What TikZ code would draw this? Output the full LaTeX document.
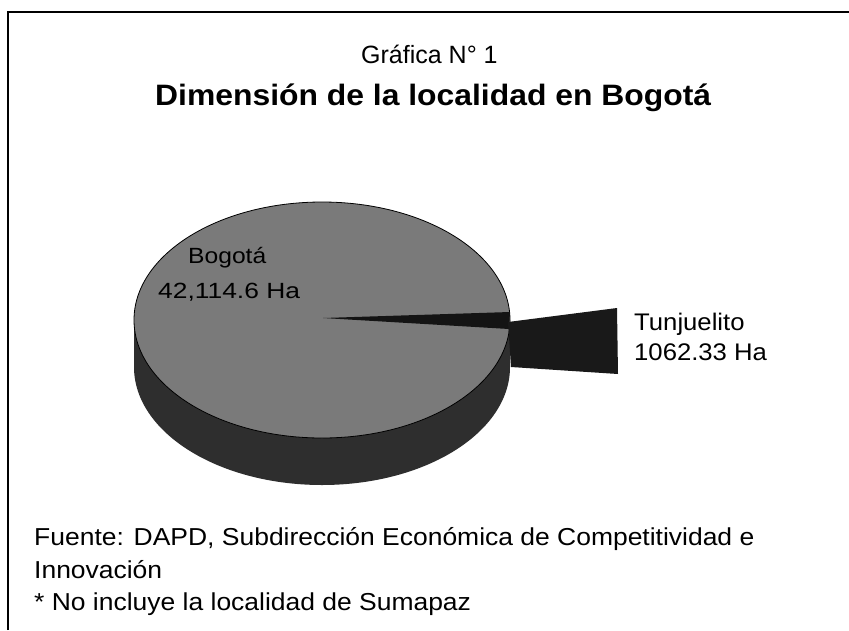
\documentclass[tikz,border=0pt]{standalone}
\usepackage{fontspec}
\usepackage{graphicx}
\setmainfont{Liberation Sans}
\newcommand{\stretchx}[2]{\scalebox{#1}[1]{#2}}
\begin{document}
\begin{tikzpicture}[x=1pt,y=-1pt,
  lbl/.style={font=\fontsize{22}{26}\selectfont,inner sep=0pt,anchor=base west},
  tlbl/.style={font=\fontsize{24}{28}\selectfont,inner sep=0pt,anchor=base west},
  foot/.style={font=\fontsize{24.5}{30}\selectfont,inner sep=0pt,anchor=base west},
  topface/.style={fill=black!52,draw=black,line width=0.8pt},
  sideface/.style={fill=black!82},
  slicebox/.style={fill=black!90}]
\useasboundingbox (0,0) rectangle (849,630);
\fill[white] (0,0) rectangle (849,630);
% frame
\draw[line width=1.8pt] (8,630) -- (8,12) -- (849,12);
% titles
\node[font=\fontsize{25}{30}\selectfont,inner sep=0pt,anchor=base west] (t1) at (361,63) {Gráfica N° 1};
\node[font=\bfseries\fontsize{29.5}{34}\selectfont,inner sep=0pt,anchor=base west] (t2) at (155,105) {\stretchx{1.08}{Dimensión de la localidad en Bogotá}};
% pie side
\fill[sideface] (134,320) -- (134,367) arc[start angle=180,end angle=0,x radius=188,y radius=118] -- (510,320) -- cycle;
% pie top
\draw[topface] (322,320) ellipse[x radius=188,y radius=118];
% gap wedge
\fill[black!92] (323,318) -- (509,329) -- (510,312) -- cycle;
% exploded slice
\fill[slicebox] (508,322) -- (617,308) -- (618,374) -- (511,367) -- cycle;
% labels
\node[lbl] (bog) at (188,263) {\stretchx{1.12}{Bogotá}};
\node[lbl] (bogv) at (158,298) {\stretchx{1.2}{42,114.6 Ha}};
\node[tlbl] (tun) at (634,330) {\stretchx{1.07}{Tunjuelito}};
\node[tlbl] (tunv) at (634,360) {\stretchx{1.07}{1062.33 Ha}};
% footnotes
\node[foot] (f1) at (34,545) {\stretchx{1.08}{Fuente: DAPD, Subdirección Económica de Competitividad e}};
\node[foot] (f2) at (34,578) {\stretchx{1.08}{Innovación}};
\node[foot] (f3) at (34,610) {\stretchx{1.08}{* No incluye la localidad de Sumapaz}};
\end{tikzpicture}
\end{document}
